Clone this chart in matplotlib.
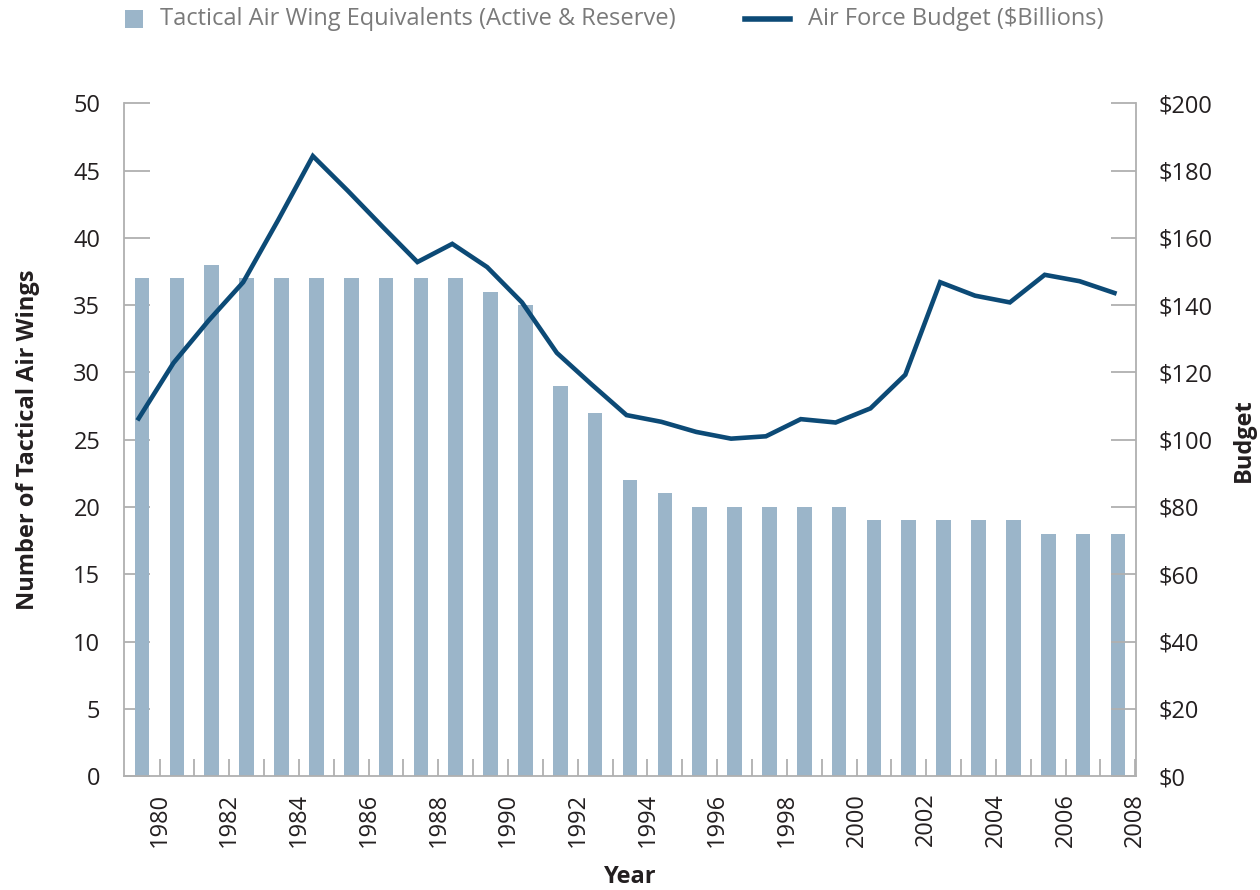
import matplotlib
matplotlib.use("Agg")
import matplotlib.pyplot as plt
from matplotlib.patches import Rectangle
from matplotlib.lines import Line2D
import numpy as np

years = list(range(1980, 2009))
wings = [37, 37, 38, 37, 37, 37, 37, 37, 37, 37, 36, 35, 29, 27, 22, 21,
         20, 20, 20, 20, 20, 19, 19, 19, 19, 19, 18, 18, 18]
budget = [106.3, 122.8, 135.3, 146.8, 165.2, 184.3, 174.0, 163.3, 152.8, 158.2,
          151.3, 140.8, 125.8, 116.4, 107.3, 105.3, 102.3, 100.3, 101.0, 106.1,
          105.1, 109.3, 119.3, 146.8, 142.8, 140.8, 149.0, 147.1, 143.6]
left_ticks = list(range(0, 51, 5))
right_ticks = list(range(0, 201, 20))
legend_labels = ["Tactical Air Wing Equivalents (Active & Reserve)",
                 "Air Force Budget ($Billions)"]

BAR_C = "#9bb5c9"
LINE_C = "#0c4a76"
GRID_C = "#b0b0b0"
TXT_C = "#231f20"
plt.rcParams["font.family"] = ["Open Sans", "DejaVu Sans"]

W, H = 1260, 890
fig = plt.figure(figsize=(12.6, 8.9), dpi=100)
ax = fig.add_axes([0.0984, 0.128, 0.8032, 0.756])
ax2 = ax.twinx()

x = np.arange(len(years))
ax.bar(x, wings, width=0.42, color=BAR_C, zorder=2)
ax2.plot(x - 0.1, budget, color=LINE_C, lw=3.3, solid_joinstyle="miter", zorder=3)

ax.set_xlim(-0.52, len(years) - 0.48)
ax.set_ylim(0, 50)
ax2.set_ylim(0, 200)
ax.set_yticks(left_ticks)
ax.set_yticklabels([str(v) for v in left_ticks])
ax2.set_yticks(right_ticks)
ax2.set_yticklabels([f"${v}" for v in right_ticks])

ax.set_xticks(x + 0.5)
ax.set_xticklabels([str(y) if y % 2 == 0 else "" for y in years], rotation=90)

for a in (ax, ax2):
    a.spines["top"].set_visible(False)
    for s in a.spines.values():
        s.set_color(GRID_C)
        s.set_linewidth(1.3)
ax.spines["right"].set_visible(False)
ax2.spines["left"].set_visible(False)
ax2.spines["bottom"].set_visible(False)

ax.tick_params(axis="y", direction="in", length=19, width=1.3, color=GRID_C,
               labelsize=17, pad=17, labelcolor=TXT_C)
ax.tick_params(axis="x", direction="in", length=12, width=1.3, color=GRID_C,
               labelsize=17, pad=12, labelcolor=TXT_C)
ax2.tick_params(axis="y", direction="in", length=18, width=1.3, color=GRID_C,
                labelsize=17, pad=16, labelcolor=TXT_C)

ax.set_ylabel("Number of Tactical Air Wings", fontsize=17, fontweight="bold",
              labelpad=24, color=TXT_C)
ax.set_xlabel("Year", fontsize=17, fontweight="bold", labelpad=13, color=TXT_C)
ax2.set_ylabel("Budget", fontsize=17, fontweight="bold", labelpad=14, color=TXT_C)

# legend (manual, top of figure)
ly = 1 - 19 / H
fig.add_artist(Rectangle((125 / W, 1 - 28 / H), 18 / W, 18 / H,
                         transform=fig.transFigure, facecolor=BAR_C, edgecolor="none"))
fig.text(160 / W, ly, legend_labels[0], fontsize=17, color="#7a7a7a", va="center", ha="left")
fig.add_artist(Line2D([745 / W, 790 / W], [ly, ly], transform=fig.transFigure,
                      color=LINE_C, lw=4))
fig.text(808 / W, ly, legend_labels[1], fontsize=17, color="#7a7a7a", va="center", ha="left")

fig.savefig("out.png", dpi=100)
